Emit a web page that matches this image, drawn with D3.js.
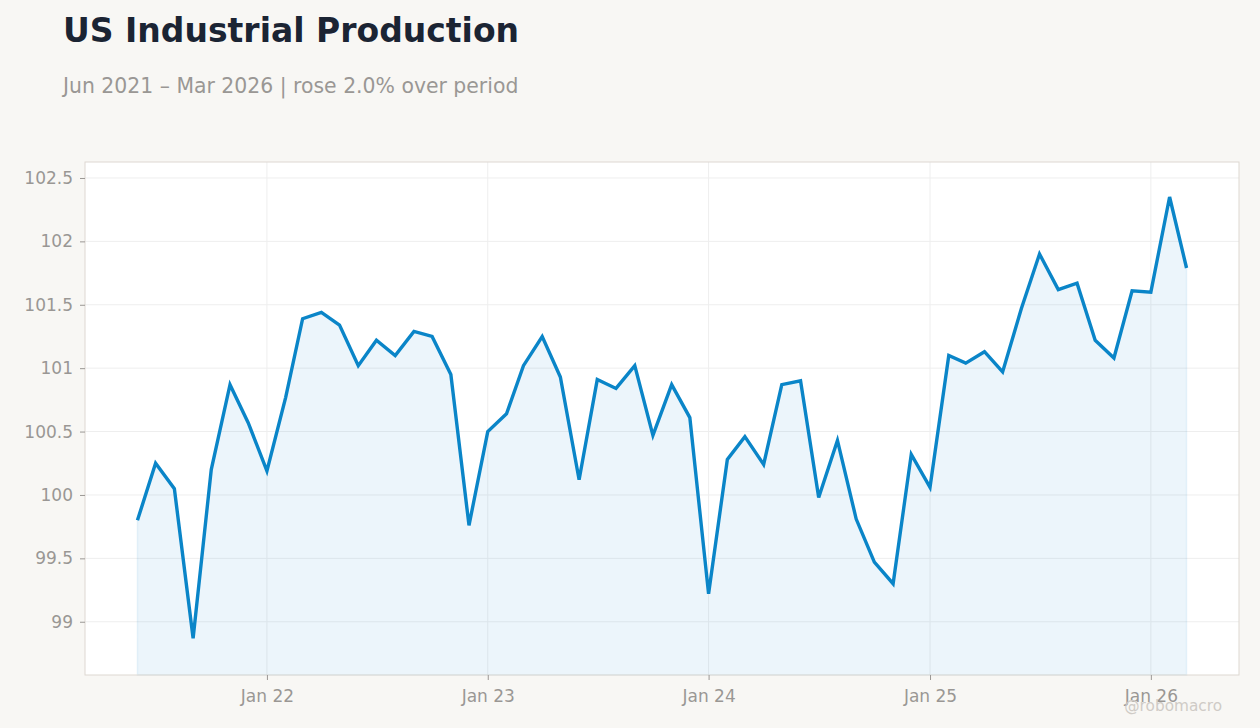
<!DOCTYPE html>
<html>
<head>
<meta charset="utf-8">
<script src="https://cdn.jsdelivr.net/npm/d3@7"></script>
<style>
  html, body { margin: 0; padding: 0; background: #f8f7f4; }
  body { width: 1260px; height: 728px; overflow: hidden; font-family: "DejaVu Sans", sans-serif; }
</style>
</head>
<body>
<div id="container"></div>
<script>
// monthly index values, Jun 2021 .. Mar 2026
const startMonth = [2021, 5];
const values = [
  99.80, 100.25, 100.05, 98.87, 100.20, 100.87, 100.57,
  100.19, 100.77, 101.39, 101.44, 101.34, 101.02, 101.22, 101.10, 101.29, 101.25, 100.95, 99.76,
  100.50, 100.64, 101.02, 101.25, 100.93, 100.12, 100.91, 100.84, 101.02, 100.47, 100.87, 100.61,
  99.22, 100.28, 100.46, 100.24, 100.87, 100.90, 99.98, 100.43, 99.81, 99.47, 99.30, 100.32,
  100.06, 101.10, 101.04, 101.13, 100.97, 101.47, 101.90, 101.62, 101.67, 101.22, 101.08, 101.61,
  101.60, 102.35, 101.79
];
const yTicks = [99, 99.5, 100, 100.5, 101, 101.5, 102, 102.5];
const xTickYears = [2022, 2023, 2024, 2025, 2026];

const data = values.map((v, i) => ({ date: new Date(startMonth[0], startMonth[1] + i, 1), value: v }));

const width = 1260, height = 728;
const margin = { top: 162, right: 21, bottom: 53, left: 85 };
const innerW = width - margin.left - margin.right;
const innerH = height - margin.top - margin.bottom;

const svg = d3.select('#container').append('svg')
  .attr('width', width)
  .attr('height', height);

svg.append('text')
  .attr('x', 63).attr('y', 42)
  .style('font-size', '33px').style('font-weight', 'bold')
  .style('fill', '#1b2433')
  .text('US Industrial Production');

svg.append('text')
  .attr('x', 63).attr('y', 93)
  .style('font-size', '20.4px')
  .style('fill', '#9a9794')
  .text('Jun 2021 \u2013 Mar 2026 | rose 2.0% over period');

// pad the time domain a bit on both sides
const first = data[0].date, last = data[data.length - 1].date;
const pad = (last - first) * 0.05;
const x = d3.scaleTime()
  .domain([new Date(+first - pad), new Date(+last + pad)])
  .range([0, innerW]);

const y = d3.scaleLinear()
  .domain([98.58, 102.626])
  .range([innerH, 0]);

const g = svg.append('g').attr('transform', `translate(${margin.left},${margin.top})`);

g.append('rect')
  .attr('width', innerW).attr('height', innerH)
  .attr('fill', '#ffffff');

// grid
g.append('g').selectAll('line')
  .data(yTicks).enter()
  .append('line')
  .attr('x1', 0).attr('x2', innerW)
  .attr('y1', d => y(d)).attr('y2', d => y(d))
  .attr('stroke', '#eeeeee').attr('stroke-width', 1);

const xTicks = xTickYears.map(yr => new Date(yr, 0, 1));
g.append('g').selectAll('line')
  .data(xTicks).enter()
  .append('line')
  .attr('x1', d => x(d)).attr('x2', d => x(d))
  .attr('y1', 0).attr('y2', innerH)
  .attr('stroke', '#eeeeee').attr('stroke-width', 1);

const area = d3.area()
  .x(d => x(d.date))
  .y0(innerH)
  .y1(d => y(d.value));

g.append('path')
  .datum(data)
  .attr('d', area)
  .attr('fill', 'rgba(10,133,200,0.08)')
  .attr('stroke', 'rgba(10,133,200,0.08)')
  .attr('stroke-width', 1.5);

const line = d3.line()
  .x(d => x(d.date))
  .y(d => y(d.value));

g.append('path')
  .datum(data)
  .attr('d', line)
  .attr('fill', 'none')
  .attr('stroke', '#0a85c8')
  .attr('stroke-width', 3.4)
  .attr('stroke-linejoin', 'miter')
  .attr('stroke-miterlimit', 4);

g.append('rect')
  .attr('width', innerW).attr('height', innerH)
  .attr('fill', 'none')
  .attr('stroke', '#ddd8d1').attr('stroke-width', 1);

// axes
const yAxis = g.append('g')
  .call(d3.axisLeft(y).tickValues(yTicks).tickSize(5).tickPadding(7).tickFormat(d3.format('')));
const xAxis = g.append('g')
  .attr('transform', `translate(0,${innerH})`)
  .call(d3.axisBottom(x).tickValues(xTicks).tickSize(5).tickPadding(10)
    .tickFormat(d => 'Jan ' + d3.timeFormat('%y')(d)));

[yAxis, xAxis].forEach(a => {
  a.select('.domain').remove();
  a.selectAll('line').attr('stroke', '#9a9794');
  a.selectAll('text')
    .style('font-family', '"DejaVu Sans", sans-serif')
    .style('font-size', '17px')
    .style('fill', '#9a9794');
});

svg.append('text')
  .attr('x', 1222).attr('y', 711)
  .attr('text-anchor', 'end')
  .style('font-size', '15.3px')
  .style('fill', '#cfcbc6')
  .text('@robomacro');
</script>
</body>
</html>
